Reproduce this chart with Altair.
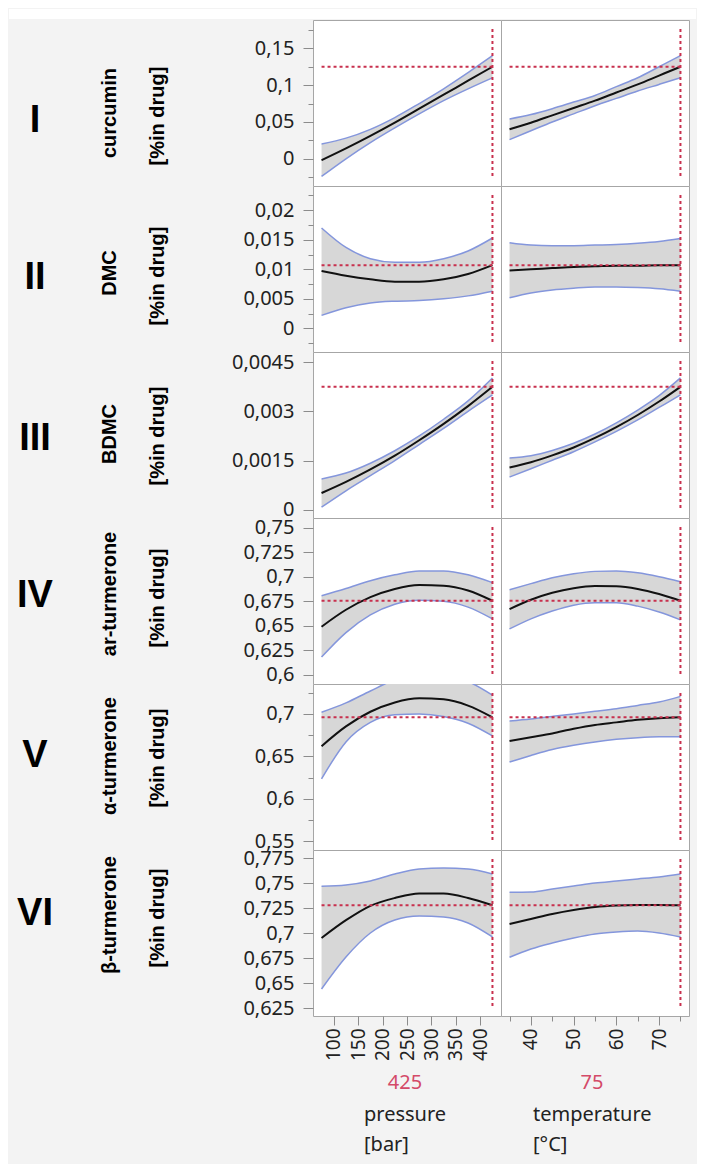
import altair as alt
import pandas as pd

# ---------------- factors ----------------
pressure = [75, 125, 175, 225, 275, 325, 375, 425]
temperature = [35, 40, 45, 50, 55, 60, 65, 70, 75]
pressure_ticks = [100, 150, 200, 250, 300, 350, 400]
temperature_ticks = [40, 50, 60, 70]
temperature_minor = [35, 45, 55, 65, 75]
pressure_domain = [57.5, 442.5]
temperature_domain = [33, 77]
pressure_current = 425
temperature_current = 75
factor_names = ["pressure", "temperature"]
factor_units = ["[bar]", "[°C]"]

# ---------------- responses ----------------
roman = ["I", "II", "III", "IV", "V", "VI"]
responses = ["curcumin", "DMC", "BDMC", "ar-turmerone", "α-turmerone", "β-turmerone"]
unit_label = "[%in drug]"
current_value = [0.125, 0.0107, 0.00375, 0.6755, 0.696, 0.7277]

# curcumin
curcumin_p = [-0.002, 0.014, 0.031, 0.049, 0.068, 0.087, 0.106, 0.125]
curcumin_p_lo = [-0.024, 0.000, 0.022, 0.042, 0.061, 0.079, 0.095, 0.110]
curcumin_p_hi = [0.020, 0.028, 0.040, 0.056, 0.075, 0.095, 0.117, 0.140]
curcumin_t = [0.040, 0.049, 0.059, 0.069, 0.079, 0.090, 0.101, 0.113, 0.125]
curcumin_t_lo = [0.026, 0.038, 0.050, 0.061, 0.072, 0.082, 0.092, 0.101, 0.110]
curcumin_t_hi = [0.054, 0.060, 0.068, 0.077, 0.086, 0.098, 0.110, 0.125, 0.140]
# DMC
dmc_p = [0.0097, 0.0089, 0.0083, 0.0079, 0.0079, 0.0083, 0.0092, 0.0107]
dmc_p_lo = [0.0022, 0.0035, 0.0043, 0.0046, 0.0047, 0.0050, 0.0055, 0.0063]
dmc_p_hi = [0.0170, 0.0137, 0.0118, 0.0112, 0.0112, 0.0118, 0.0131, 0.0153]
dmc_t = [0.0098, 0.0100, 0.0102, 0.0104, 0.0105, 0.0106, 0.0106, 0.0107, 0.0107]
dmc_t_lo = [0.0052, 0.0060, 0.0065, 0.0068, 0.0070, 0.0070, 0.0069, 0.0067, 0.0063]
dmc_t_hi = [0.0145, 0.0141, 0.0140, 0.0140, 0.0141, 0.0142, 0.0144, 0.0147, 0.0152]
# BDMC
bdmc_p = [0.00051, 0.00085, 0.00123, 0.00165, 0.00212, 0.00262, 0.00316, 0.00375]
bdmc_p_lo = [0.00008, 0.00058, 0.00104, 0.00150, 0.00199, 0.00248, 0.00300, 0.00350]
bdmc_p_hi = [0.00094, 0.00112, 0.00142, 0.00180, 0.00225, 0.00276, 0.00332, 0.00402]
bdmc_t = [0.00129, 0.00145, 0.00166, 0.00190, 0.00219, 0.00252, 0.00289, 0.00330, 0.00375]
bdmc_t_lo = [0.00100, 0.00125, 0.00151, 0.00177, 0.00207, 0.00239, 0.00274, 0.00312, 0.00350]
bdmc_t_hi = [0.00158, 0.00165, 0.00181, 0.00203, 0.00231, 0.00265, 0.00304, 0.00348, 0.00402]
# ar-turmerone
ar_p = [0.649, 0.6663, 0.6792, 0.6876, 0.6915, 0.6909, 0.6860, 0.6755]
ar_p_lo = [0.618, 0.643, 0.661, 0.672, 0.676, 0.675, 0.669, 0.657]
ar_p_hi = [0.6806, 0.688, 0.696, 0.702, 0.706, 0.706, 0.702, 0.694]
ar_t = [0.667, 0.6765, 0.6836, 0.6883, 0.6905, 0.6903, 0.6876, 0.6824, 0.6755]
ar_t_lo = [0.6467, 0.657, 0.665, 0.671, 0.6735, 0.6735, 0.670, 0.664, 0.656]
ar_t_hi = [0.6867, 0.693, 0.699, 0.703, 0.7055, 0.706, 0.704, 0.700, 0.695]
# alpha-turmerone
alpha_p = [0.662, 0.6853, 0.7025, 0.7135, 0.7184, 0.7172, 0.7098, 0.696]
alpha_p_lo = [0.6234, 0.667, 0.690, 0.699, 0.700, 0.697, 0.689, 0.674]
alpha_p_hi = [0.702, 0.713, 0.727, 0.740, 0.745, 0.745, 0.738, 0.722]
alpha_t = [0.668, 0.6725, 0.677, 0.6825, 0.687, 0.690, 0.693, 0.695, 0.696]
alpha_t_lo = [0.6433, 0.651, 0.658, 0.663, 0.667, 0.670, 0.672, 0.673, 0.673]
alpha_t_hi = [0.6917, 0.694, 0.697, 0.700, 0.703, 0.706, 0.710, 0.714, 0.7206]
# beta-turmerone
beta_p = [0.695, 0.7128, 0.7272, 0.7350, 0.7396, 0.7394, 0.7350, 0.7277]
beta_p_lo = [0.644, 0.676, 0.700, 0.713, 0.717, 0.716, 0.710, 0.696]
beta_p_hi = [0.7467, 0.748, 0.752, 0.759, 0.764, 0.765, 0.764, 0.759]
beta_t = [0.709, 0.714, 0.719, 0.723, 0.726, 0.7275, 0.728, 0.728, 0.7277]
beta_t_lo = [0.6757, 0.684, 0.690, 0.695, 0.699, 0.701, 0.702, 0.700, 0.696]
beta_t_hi = [0.7407, 0.741, 0.744, 0.747, 0.750, 0.752, 0.754, 0.756, 0.759]

P_MID = [curcumin_p, dmc_p, bdmc_p, ar_p, alpha_p, beta_p]
P_LO = [curcumin_p_lo, dmc_p_lo, bdmc_p_lo, ar_p_lo, alpha_p_lo, beta_p_lo]
P_HI = [curcumin_p_hi, dmc_p_hi, bdmc_p_hi, ar_p_hi, alpha_p_hi, beta_p_hi]
T_MID = [curcumin_t, dmc_t, bdmc_t, ar_t, alpha_t, beta_t]
T_LO = [curcumin_t_lo, dmc_t_lo, bdmc_t_lo, ar_t_lo, alpha_t_lo, beta_t_lo]
T_HI = [curcumin_t_hi, dmc_t_hi, bdmc_t_hi, ar_t_hi, alpha_t_hi, beta_t_hi]

# y axes
y_domain = [[-0.037, 0.1885], [-0.004, 0.0241], [-0.00025, 0.00481],
            [0.5905, 0.760], [0.5397, 0.7352], [0.617, 0.783]]
y_major = [[0, 0.05, 0.1, 0.15],
           [0, 0.005, 0.01, 0.015, 0.02],
           [0, 0.0015, 0.003, 0.0045],
           [0.6, 0.625, 0.65, 0.675, 0.7, 0.725, 0.75],
           [0.55, 0.6, 0.65, 0.7],
           [0.625, 0.65, 0.675, 0.7, 0.725, 0.75, 0.775]]
y_minor = [[-0.025, 0.025, 0.075, 0.125, 0.175],
           [-0.0025, 0.0025, 0.0075, 0.0125, 0.0175, 0.0225],
           [], [],
           [0.575, 0.625, 0.675, 0.725],
           []]

# ---------------- style / layout ----------------
W, H = 188, 166
BAND = "#d7d7d7"
BLUE = "#8496dc"
RED = "#c8304e"
REDTXT = "#d44a68"
FRAME = "#a6a6a6"
TICK = "#8c8c8c"
TXT = "#222222"
BG = "#f3f3f3"
FONT = "Noto Sans"
BOLD = "Liberation Sans"
roman_y = [101, 92, 87, 78, 72, 64]
name_y = [93, 87, 82, 76, 72, 65]
unit_y = [96, 90, 84, 80, 74, 68]
LABEL_EXPR = "replace(toString(datum.value), '.', ',')"


def panel(r, side):
    if side == 0:
        xs, mid, lo, hi = pressure, P_MID[r], P_LO[r], P_HI[r]
        xdom, xt, xminor, xcur = pressure_domain, pressure_ticks, [], pressure_current
        cur_txt = str(pressure_current)
    else:
        xs, mid, lo, hi = temperature, T_MID[r], T_LO[r], T_HI[r]
        xdom, xt, xminor, xcur = temperature_domain, temperature_ticks, temperature_minor, temperature_current
        cur_txt = str(temperature_current)
    last = r == 5
    left = side == 0
    df = pd.DataFrame({"x": xs, "mid": mid, "lo": lo, "hi": hi})
    xsc = alt.Scale(domain=xdom, nice=False, zero=False)
    ysc = alt.Scale(domain=y_domain[r], nice=False, zero=False)

    x_major = None
    x_minor = None
    if last:
        x_major = alt.Axis(values=xt, title=None, orient="bottom", labelAngle=-90,
                           labelFont=FONT, labelFontSize=19, labelColor=TXT,
                           labelPadding=3, tickSize=9, tickColor=TICK, domain=False,
                           grid=False, labelOverlap=False, labelFlush=False)
        if xminor:
            x_minor = alt.Axis(values=xminor, title=None, orient="bottom", labels=False,
                               tickSize=5, tickColor=TICK, domain=False, grid=False)
    y_maj = None
    y_min = None
    if left:
        y_maj = alt.Axis(values=y_major[r], title=None, orient="left", labelExpr=LABEL_EXPR,
                         labelFont=FONT, labelFontSize=20, labelColor=TXT, labelPadding=9,
                         tickSize=10, tickColor=TICK, domain=False, grid=False,
                         labelOverlap=False)
        if y_minor[r]:
            y_min = alt.Axis(values=y_minor[r], title=None, orient="left", labels=False,
                             tickSize=5, tickColor=TICK, domain=False, grid=False)

    base = alt.Chart(df)
    band = base.mark_area(color=BAND, clip=True, interpolate="monotone").encode(
        x=alt.X("x:Q", scale=xsc, axis=x_major),
        y=alt.Y("lo:Q", scale=ysc, axis=y_maj),
        y2="hi:Q")
    upper = base.mark_line(color=BLUE, strokeWidth=1.5, clip=True, interpolate="monotone").encode(
        x=alt.X("x:Q", scale=xsc, axis=None),
        y=alt.Y("hi:Q", scale=ysc, axis=y_min))
    lower = base.mark_line(color=BLUE, strokeWidth=1.5, clip=True, interpolate="monotone").encode(
        x=alt.X("x:Q", scale=xsc, axis=x_minor),
        y=alt.Y("lo:Q", scale=ysc, axis=None))
    curve = base.mark_line(color="#111111", strokeWidth=2, clip=True, interpolate="monotone").encode(
        x=alt.X("x:Q", scale=xsc, axis=None),
        y=alt.Y("mid:Q", scale=ysc, axis=None))

    cur_df = pd.DataFrame({"x0": [xs[0]], "x1": [xs[-1]], "xc": [xcur], "yc": [current_value[r]]})
    hrule = alt.Chart(cur_df).mark_rule(color=RED, strokeWidth=2, strokeDash=[3, 3]).encode(
        x=alt.X("x0:Q", scale=xsc, axis=None), x2="x1:Q",
        y=alt.Y("yc:Q", scale=ysc, axis=None))
    vrule = alt.Chart(cur_df).mark_rule(color=RED, strokeWidth=2, strokeDash=[3, 3]).encode(
        x=alt.X("xc:Q", scale=xsc, axis=None), y=alt.value(9), y2=alt.value(H - 7))

    layers = []
    if r == 0 and side == 0:
        strip = pd.DataFrame({"k": [0]})
        layers.append(alt.Chart(strip).mark_rect(color="white").encode(
            x=alt.value(-304), x2=alt.value(383), y=alt.value(-11), y2=alt.value(-1)))
    layers += [band, upper, lower, curve, hrule, vrule]

    if left:
        lab = pd.DataFrame({"roman": [roman[r]], "name": [responses[r]], "unit": [unit_label]})
        lb = alt.Chart(lab)
        layers.append(lb.mark_text(font=BOLD, fontWeight="bold", fontSize=38, color="#000000",
                                   align="center", baseline="middle").encode(
            text="roman:N", x=alt.value(-278), y=alt.value(roman_y[r])))
        layers.append(lb.mark_text(font=BOLD, fontWeight="bold", fontSize=20, color="#000000",
                                   align="center", baseline="middle", angle=270).encode(
            text="name:N", x=alt.value(-203), y=alt.value(name_y[r])))
        layers.append(lb.mark_text(font=BOLD, fontWeight="bold", fontSize=20, color="#000000",
                                   align="center", baseline="middle", angle=270).encode(
            text="unit:N", x=alt.value(-155), y=alt.value(unit_y[r])))
    if last:
        ft = pd.DataFrame({"cur": [cur_txt], "name": [factor_names[side]], "unit": [factor_units[side]]})
        fb = alt.Chart(ft)
        cx = 92 if side == 0 else 91
        lx = 51 if side == 0 else 32
        layers.append(fb.mark_text(font=FONT, fontSize=20, color=REDTXT, align="center",
                                   baseline="middle").encode(
            text="cur:N", x=alt.value(cx), y=alt.value(H + 67)))
        layers.append(fb.mark_text(font=FONT, fontSize=20, color=TXT, align="left",
                                   baseline="alphabetic").encode(
            text="name:N", x=alt.value(lx), y=alt.value(H + 105)))
        layers.append(fb.mark_text(font=FONT, fontSize=20, color=TXT, align="left",
                                   baseline="alphabetic").encode(
            text="unit:N", x=alt.value(lx), y=alt.value(H + 135)))

    return alt.layer(*layers).resolve_axis(x="independent", y="independent").properties(
        width=W, height=H,
        view=alt.ViewBackground(fill="white", stroke=FRAME, strokeWidth=1))


cells = []
for r in range(6):
    for s in range(2):
        cells.append(panel(r, s))

chart = alt.concat(*cells, columns=2, spacing=0, bounds="flush").resolve_scale(
    x="independent", y="independent").properties(
    padding={"left": 0, "top": 0, "right": 0, "bottom": 8},
    background=BG
).configure_view(stroke=FRAME, strokeWidth=1, fill="white")

chart.save("out.html", embed_options={"renderer": "svg", "actions": False})
